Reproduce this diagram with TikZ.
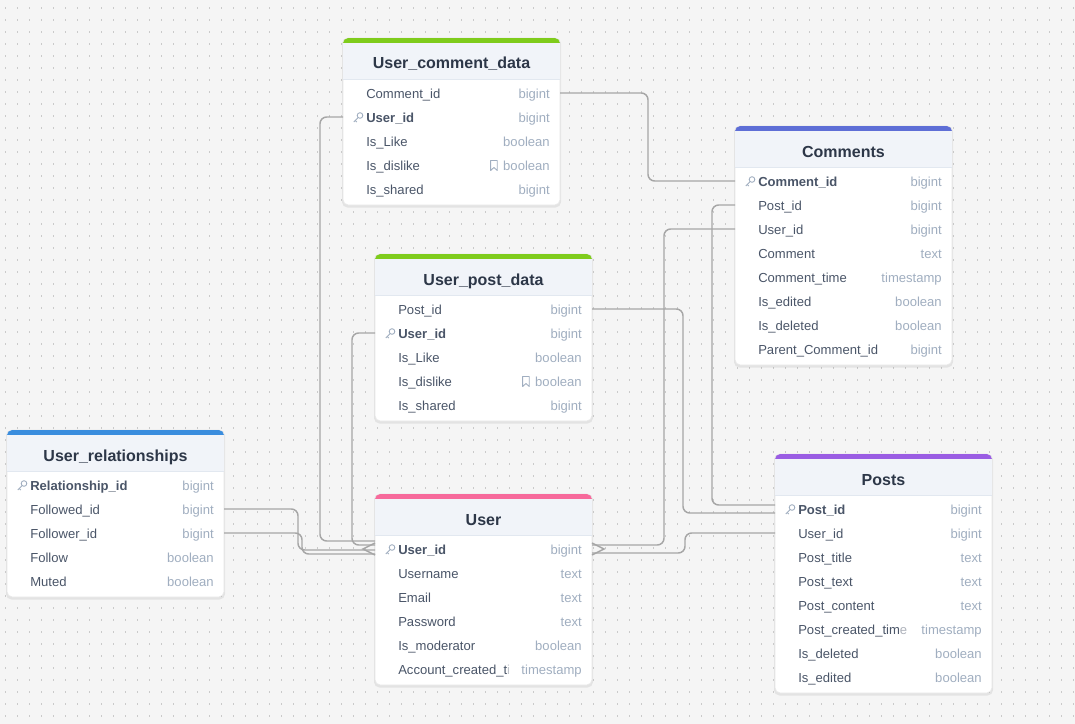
\documentclass[tikz,border=0pt]{standalone}
\usepackage{fontspec}
\setmainfont{Liberation Sans}
\usetikzlibrary{calc}
\definecolor{bgc}{HTML}{F5F5F5}
\definecolor{dotc}{HTML}{CACACA}
\definecolor{hdrc}{HTML}{F1F4F9}
\definecolor{sepc}{HTML}{E2E8F0}
\definecolor{titlec}{HTML}{2D3748}
\definecolor{namec}{HTML}{4A5568}
\definecolor{typec}{HTML}{A0AEC0}
\definecolor{keyc}{HTML}{A0AEC0}
\definecolor{linec}{HTML}{A6A6A6}
\definecolor{cgreen}{HTML}{7FCC1C}
\definecolor{cindigo}{HTML}{5E6ED6}
\definecolor{cblue}{HTML}{3A8DDE}
\definecolor{cpink}{HTML}{F76A9B}
\definecolor{cpurple}{HTML}{9A5DE3}
\tikzset{
 tabbody/.style={draw=black!9, line width=0.5pt, fill=white, rounded corners=4pt, inner sep=0pt, outer sep=0pt, minimum width=162.75pt},
 titlef/.style={font=\bfseries\fontsize{12}{14}\selectfont, text=titlec, inner sep=0pt, anchor=base},
 namef/.style={font=\fontsize{9.8}{12}\selectfont, text=namec, inner sep=0pt, anchor=base west},
 keyname/.style={namef, font=\bfseries\fontsize{9.8}{12}\selectfont},
 typef/.style={font=\fontsize{9.8}{12}\selectfont, text=typec, inner sep=0pt, anchor=base east},
 conn/.style={draw=linec, line width=1.1pt, rounded corners=5pt},
 crow/.style={draw=linec, line width=1.1pt},
 iconline/.style={draw=keyc, line width=0.65pt},
}
% #1 id #2 x #3 y #4 colour #5 title #6 rows count #7 rows
\newcommand\mktab[7]{%
  \pgfmathsetmacro\tabh{55+(#6-1)*24+16}%
  \fill[black,opacity=0.07,rounded corners=4pt] (#2-1,#3) rectangle (#2+218,#3+\tabh+2.5);
  \node[tabbody, minimum height=\tabh*0.75pt, anchor=north west] (#1) at (#2,#3) {};
  \begin{scope}
    \clip[rounded corners=4pt] (#2,#3) rectangle (#2+217,#3+\tabh);
    \fill[#4] (#2,#3) rectangle (#2+217,#3+5);
    \fill[hdrc] (#2,#3+5) rectangle (#2+217,#3+41);
  \end{scope}
  \draw[sepc, line width=0.6pt] (#2,#3+41) -- (#2+217,#3+41);
  \node[titlef] (#1-title) at (#2+108.5,#3+31) {#5};
  \foreach \nm/\ty/\k [count=\i] in {#7} {
    \pgfmathsetmacro\ry{#3+55+(\i-1)*24}
    \coordinate (#1-\i-w) at (#2,\ry);
    \coordinate (#1-\i-e) at (#2+217,\ry);
    \node[typef] (#1-\i-t) at (#2+207,\ry+5.4) {\ty};
    \ifnum\k=1\relax
      \node[keyname] (#1-\i-n) at (#2+23,\ry+5.4) {\nm};
      \draw[iconline] (#2+17,\ry-1.5) circle[radius=2.1pt];
      \draw[iconline] (#2+15.3,\ry+0.3) -- (#2+10.8,\ry+5);
      \draw[iconline] (#2+12.3,\ry+3.5) -- (#2+13.8,\ry+5);
    \else
      \node[namef] (#1-\i-n) at (#2+23,\ry+5.4) {\nm};
    \fi
    \ifnum\k=2\relax
      \path (#1-\i-t.west |- #1-\i-w) ++(-9,0) coordinate (bm);
      \draw[iconline, line join=round] ($(bm)+(-3.3,-4.5)$) -- ++(6.6,0) -- ++(0,10) -- ++(-3.3,-3) -- ++(-3.3,3) -- cycle;
    \fi
  }
}
\begin{document}
\begin{tikzpicture}[x=0.75pt,y=-0.75pt]
\useasboundingbox (0,0) rectangle (1075,724);
\fill[bgc] (0,0) rectangle (1075,724);
\foreach \yy in {8,20,...,724} {
  \draw[dotc, line width=0.9pt, dash pattern=on 0.9pt off 8.1pt] (5,\yy) -- (1075,\yy);
}

\mktab{ucd}{343}{38}{cgreen}{User\_comment\_data}{5}{Comment\_id/bigint/0, User\_id/bigint/1, Is\_Like/boolean/0, Is\_dislike/boolean/2, Is\_shared/bigint/0}
\mktab{cm}{735}{126}{cindigo}{Comments}{8}{Comment\_id/bigint/1, Post\_id/bigint/0, User\_id/bigint/0, Comment/text/0, Comment\_time/timestamp/0, Is\_edited/boolean/0, Is\_deleted/boolean/0, Parent\_Comment\_id/bigint/0}
\mktab{upd}{375}{254}{cgreen}{User\_post\_data}{5}{Post\_id/bigint/0, User\_id/bigint/1, Is\_Like/boolean/0, Is\_dislike/boolean/2, Is\_shared/bigint/0}
\mktab{ur}{7}{430}{cblue}{User\_relationships}{5}{Relationship\_id/bigint/1, Followed\_id/bigint/0, Follower\_id/bigint/0, Follow/boolean/0, Muted/boolean/0}
\mktab{user}{375}{494}{cpink}{User}{6}{User\_id/bigint/1, Username/text/0, Email/text/0, Password/text/0, Is\_moderator/boolean/0, {Account\_created\_t\textcolor{namec!35}{i}}/timestamp/0}
\mktab{ps}{775}{454}{cpurple}{Posts}{8}{Post\_id/bigint/1, User\_id/bigint/0, Post\_title/text/0, Post\_text/text/0, Post\_content/text/0, {Post\_created\_tim\textcolor{namec!45}{e}}/timestamp/0, Is\_deleted/boolean/0, Is\_edited/boolean/0}

% connectors
\draw[conn] (ucd-1-e) -- ++(88,0) |- (cm-1-w);
\draw[conn] (ucd-2-w) -- ++(-23,0) |- ($(user-1-w)+(0,-8)$);
\draw[conn] (upd-2-w) -- ++(-23,0) |- ($(user-1-w)+(0,-4)$);
\draw[conn] (ur-2-e) -- ++(74,0) |- ($(user-1-w)+(0,1)$);
\draw[conn] (ur-3-e) -- ++(78,0) |- ($(user-1-w)+(0,5)$);
\draw[conn] (cm-3-w) -- ++(-71,0) |- ($(user-1-e)+(0,-4)$);
\draw[conn] (ps-2-w) -- ++(-90,0) |- ($(user-1-e)+(0,4)$);
\draw[conn] (upd-1-e) -- ++(91,0) |- ($(ps-1-w)+(0,4)$);
\draw[conn] (cm-2-w) -- ++(-23,0) |- ($(ps-1-w)+(0,-4)$);

% crow's feet at User
\coordinate (uLheel) at ($(user-1-w)+(-12,0)$);
\coordinate (uRheel) at ($(user-1-e)+(12,0)$);
\draw[crow] ($(user-1-w)+(0,-6)$) -- (uLheel) -- ($(user-1-w)+(0,6)$);
\draw[crow] ($(user-1-e)+(0,-6)$) -- (uRheel) -- ($(user-1-e)+(0,6)$);
\end{tikzpicture}
\end{document}
